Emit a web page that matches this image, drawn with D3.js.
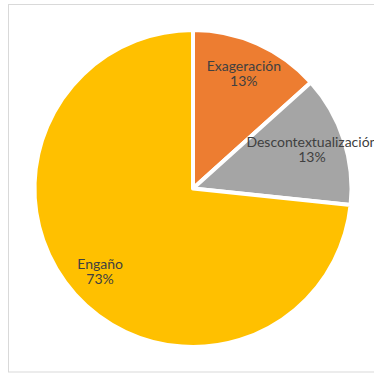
<!DOCTYPE html>
<html><head><meta charset="utf-8">
<script src="https://cdn.jsdelivr.net/npm/d3@7"></script>
<style>html,body{margin:0;padding:0;background:#fff;overflow:hidden}</style>
</head><body>
<svg id="chart" width="374" height="374"></svg>
<script>
const categories = ["Exageración", "Descontextualización", "Engaño"];
const values = [2, 2, 11];
const percentLabels = ["13%", "13%", "73%"];
const colors = ["#ED7D31", "#A5A5A5", "#FFC000"];

const svg = d3.select("#chart");
svg.append("rect").attr("x", 8.5).attr("y", 4.5).attr("width", 380).attr("height", 367.5)
  .attr("fill", "#fff").attr("stroke", "#d9d9d9").attr("stroke-width", 1);

const cx = 193, cy = 188.5, r = 158.5;
const g = svg.append("g").attr("transform", `translate(${cx},${cy})`);
const data = categories.map((c, i) => ({name: c, value: values[i], pct: percentLabels[i], color: colors[i]}));
const pie = d3.pie().value(d => d.value).sort(null);
const arc = d3.arc().innerRadius(0).outerRadius(r);
const labelArc = d3.arc().innerRadius(125).outerRadius(125);
const arcs = pie(data);

g.selectAll("path").data(arcs).join("path")
  .attr("d", arc).attr("fill", d => d.data.color)
  .attr("stroke", "#fff").attr("stroke-width", 4).attr("stroke-linejoin", "round");

const labels = g.selectAll("text.lbl").data(arcs).join("text")
  .attr("class", "lbl")
  .attr("text-anchor", "middle")
  .attr("font-family", "Lato, 'Open Sans', sans-serif")
  .attr("font-size", 14)
  .attr("fill", "#404040")
  .attr("transform", d => { const c = labelArc.centroid(d); return `translate(${c[0]},${c[1]})`; });
labels.append("tspan").attr("x", 0).attr("y", -3).text(d => d.data.name);
labels.append("tspan").attr("x", 0).attr("y", 12).text(d => d.data.pct);
</script>
</body></html>
